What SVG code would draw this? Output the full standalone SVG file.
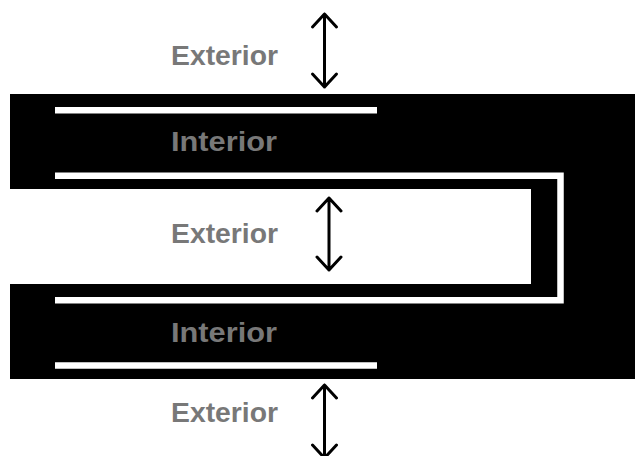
<svg xmlns="http://www.w3.org/2000/svg" width="635" height="456" viewBox="0 0 635 456">
<defs>
<style>
.lbl{font-family:"Liberation Sans",Arial,sans-serif;font-weight:bold;font-size:28px;fill:#787878}
.wl{fill:none;stroke:#fff;stroke-width:6.5}
.arr{fill:none;stroke:#000;stroke-width:3;stroke-linecap:round;stroke-linejoin:round}
</style>
</defs>
<rect width="635" height="456" fill="#fff"/>
<g id="wall">
<path d="M10 94 H635 V379 H10 V284 H531 V189 H10 Z" fill="#000"/>
<path class="wl" d="M55 110.3 H377"/>
<path class="wl" d="M55 175.7 H560.5 V300.3 H55"/>
<path class="wl" d="M55 365.6 H377"/>
</g>
<g id="labels">
<text class="lbl" x="171" y="65" textLength="107" lengthAdjust="spacingAndGlyphs">Exterior</text>
<text class="lbl" x="171" y="150.5" textLength="106" lengthAdjust="spacingAndGlyphs">Interior</text>
<text class="lbl" x="171" y="243" textLength="107" lengthAdjust="spacingAndGlyphs">Exterior</text>
<text class="lbl" x="171" y="341.5" textLength="106" lengthAdjust="spacingAndGlyphs">Interior</text>
<text class="lbl" x="171" y="422" textLength="107" lengthAdjust="spacingAndGlyphs">Exterior</text>
</g>
<g id="connectors">
<path class="arr" d="M324.5 14 V87 M312.5 27 L324.5 14 L336.5 27 M312.5 74 L324.5 87 L336.5 74"/>
<path class="arr" d="M329 198 V270 M317 211 L329 198 L341 211 M317 257 L329 270 L341 257"/>
<path class="arr" d="M324.5 385 V458 M312.5 398 L324.5 385 L336.5 398 M312.5 445 L324.5 458 L336.5 445"/>
</g>
</svg>
